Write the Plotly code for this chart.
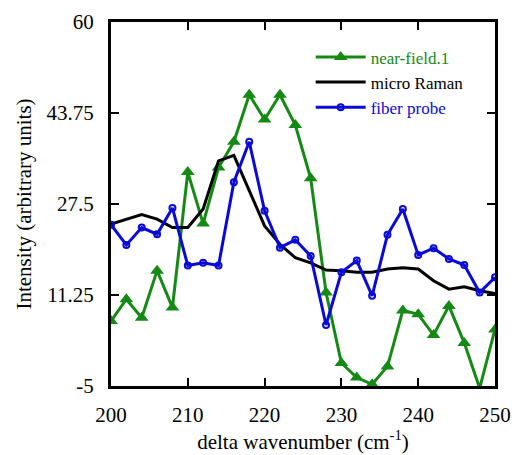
import plotly.graph_objects as go

x_vals = list(range(200, 251, 2))

near_field = [6.6, 10.5, 7.2, 15.6, 9.0, 33.2, 24.0, 34.0, 38.6, 47.0, 42.6, 47.0, 41.6,
              32.1, 11.7, -0.9, -3.5, -4.7, -1.5, 8.5, 7.8, 4.1, 9.3, 2.7, -5.4, 5.1]
micro_raman = [23.9, 24.8, 25.6, 24.8, 23.3, 23.3, 26.6, 35.2, 36.2, 29.9, 23.6, 20.3, 17.9,
               17.0, 15.7, 15.6, 15.3, 15.3, 15.9, 16.1, 15.9, 13.8, 12.3, 12.7, 12.0, 11.5]
fiber_probe = [23.8, 20.2, 23.3, 22.1, 26.8, 16.5, 17.0, 16.5, 31.4, 38.6, 26.3, 19.7, 21.1,
               18.2, 5.9, 15.3, 17.4, 11.1, 22.0, 26.6, 18.4, 19.6, 17.7, 16.6, 11.7, 14.4]

y_ticks = [-5, 11.25, 27.5, 43.75, 60]
y_tick_text = ["-5", "11.25", "27.5", "43.75", "60"]
x_ticks = [200, 210, 220, 230, 240, 250]

GREEN = "#148a14"
BLUE = "#0a0ad8"
FONT = "'Liberation Serif', 'Times New Roman', 'DejaVu Serif', serif"

fig = go.Figure()
fig.add_trace(go.Scatter(
    x=x_vals, y=near_field, mode="lines+markers",
    name=f"<span style='color:{GREEN}'>near-field.1</span>",
    line=dict(color=GREEN, width=3),
    marker=dict(symbol="triangle-up", size=12, color=GREEN),
))
fig.add_trace(go.Scatter(
    x=x_vals, y=micro_raman, mode="lines",
    name="<span style='color:black'>micro Raman</span>",
    line=dict(color="black", width=3),
))
fig.add_trace(go.Scatter(
    x=x_vals, y=fiber_probe, mode="lines+markers",
    name=f"<span style='color:{BLUE}'>fiber probe</span>",
    line=dict(color=BLUE, width=3),
    marker=dict(symbol="circle-open", size=6, color=BLUE, line=dict(width=2, color=BLUE)),
))

axis_common = dict(
    showline=True, linecolor="black", linewidth=3, mirror="ticks",
    ticks="inside", ticklen=8, tickwidth=2, tickcolor="black",
    showgrid=False, zeroline=False, automargin=False,
    tickfont=dict(family=FONT, size=21, color="black"),
)

fig.update_layout(
    width=517, height=455,
    margin=dict(l=111, r=22, t=22, b=69),
    paper_bgcolor="white", plot_bgcolor="white",
    font=dict(family=FONT, size=21, color="black"),
    xaxis=dict(range=[200, 250], tickvals=x_ticks, ticklabelstandoff=8,
               title=dict(text="delta wavenumber (cm<sup>-1</sup>)", font=dict(family=FONT, size=21), standoff=8),
               **axis_common),
    yaxis=dict(range=[-5, 60], tickvals=y_ticks, ticktext=y_tick_text, ticklabelstandoff=10,
               title=dict(text="Intensity (arbitrary units)", font=dict(family=FONT, size=21), standoff=10),
               **axis_common),
    legend=dict(x=0.52, y=0.952, xanchor="left", yanchor="top",
                bgcolor="rgba(0,0,0,0)", borderwidth=0,
                font=dict(family=FONT, size=17), tracegroupgap=0, itemwidth=50),
    showlegend=True,
)

fig.write_html("out.html", config={"displayModeBar": False},
               post_script="document.body.style.margin='0';")
